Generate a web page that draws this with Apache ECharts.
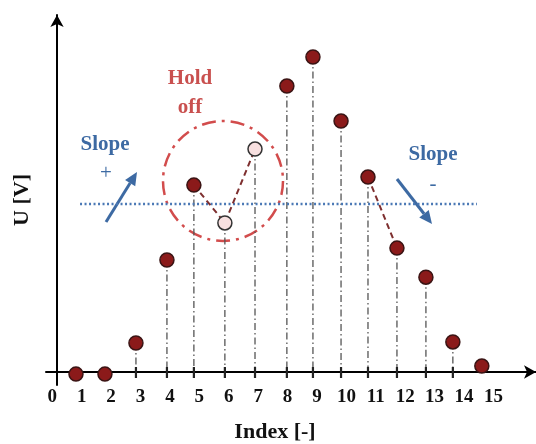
<!DOCTYPE html>
<html><head><meta charset="utf-8">
<script src="https://cdn.jsdelivr.net/npm/echarts@6/dist/echarts.min.js"></script>
<style>html,body{margin:0;padding:0;background:#fff}#c{width:536px;height:444px}</style>
</head><body><div id="c"></div>
<script>
// ---- data ----
const indexPos = [0.90, 1.90, 2.97, 4.04, 4.97, 6.04, 7.08, 8.18, 9.08, 10.05, 10.98, 11.98, 12.98, 13.91, 14.91];
const uValues  = [-0.06, -0.06, 0.83, 3.20, 5.34, 4.26, 6.37, 8.17, 9.00, 7.17, 5.57, 3.54, 2.71, 0.86, 0.17];
const heldOffPoints = [5, 6];            // zero-based: samples 6 and 7 (hollow)
const dashedGroups = [[4, 5, 6], [10, 11]];
const tickLabels = ['0','1','2','3','4','5','6','7','8','9','10','11','12','13','14','15'];
const threshold = 4.8;
const thresholdSpan = [1.04, 14.74];

const SERIF = '"Liberation Serif", "DejaVu Serif", serif';
const pts = indexPos.map((x, i) => [x, uValues[i]]);

function arrow(x1, y1, x2, y2, color) {
  const ang = Math.atan2(y2 - y1, x2 - x1);
  const L = 13, W = 6;
  const bx = x2 - L * Math.cos(ang), by = y2 - L * Math.sin(ang);
  const nx = -Math.sin(ang) * W, ny = Math.cos(ang) * W;
  return [
    { type: 'line', shape: { x1, y1, x2: bx, y2: by }, style: { stroke: color, lineWidth: 3 } },
    { type: 'polygon', shape: { points: [[x2, y2], [bx + nx, by + ny], [bx - nx, by - ny]] }, style: { fill: color } }
  ];
}

const chart = echarts.init(document.getElementById('c'), null, { renderer: 'canvas' });
const blue = '#3d6aa3', red = '#c9504f';

const option = {
  animation: false,
  backgroundColor: '#fff',
  grid: { left: 46, right: 0, top: 15, bottom: 59, containLabel: false, outerBoundsMode: 'none' },
  xAxis: [
    { type: 'value', min: -0.135, max: 16.78,
      axisLine: { show: true, onZero: true, symbol: ['none', 'arrow'], symbolSize: [10, 12],
                  lineStyle: { color: '#000', width: 2 } },
      axisTick: { show: false }, axisLabel: { show: false }, splitLine: { show: false } },
    { type: 'value', min: -0.214, max: 16.447, position: 'bottom',
      axisLine: { show: false, onZero: false }, axisTick: { show: false }, splitLine: { show: false },
      axisLabel: { show: true, customValues: tickLabels.map(Number), formatter: v => tickLabels[v] || '',
                   margin: 3, color: '#111', fontFamily: SERIF, fontWeight: 'bold', fontSize: 19 },
      name: 'Index [-]', nameLocation: 'middle', nameGap: 36,
      nameTextStyle: { color: '#111', fontFamily: SERIF, fontWeight: 'bold', fontSize: 22, padding: [0, 32, 0, 0] } }
  ],
  yAxis: {
    type: 'value', min: -0.371, max: 10.2, offset: -11,
    axisLine: { show: true, onZero: false, symbol: ['none', 'arrow'], symbolSize: [10, 12],
                lineStyle: { color: '#000', width: 2 } },
    axisTick: { show: false }, axisLabel: { show: false }, splitLine: { show: false },
    name: 'U [V]', nameLocation: 'middle', nameRotate: 90, nameGap: 24,
    nameTextStyle: { color: '#111', fontFamily: SERIF, fontWeight: 'bold', fontSize: 22 }
  },
  series: [
    { type: 'custom', xAxisIndex: 0, data: pts, z: 2, silent: true,
      renderItem: (params, api) => {
        const x = api.value(0), y = api.value(1);
        const p = api.coord([x, y]), b = api.coord([x, 0]);
        const children = [{ type: 'line', shape: { x1: p[0], y1: p[1], x2: b[0], y2: b[1] },
          style: { stroke: '#555', lineWidth: 1.3, lineDash: [7, 3, 1.5, 3] } }];
        if (y > 0.3) children.push({ type: 'line', shape: { x1: b[0], y1: b[1] - 5, x2: b[0], y2: b[1] + 6 },
          style: { stroke: '#222', lineWidth: 2.2 } });
        return { type: 'group', children };
      } },
    { type: 'line', xAxisIndex: 0, data: thresholdSpan.map(x => [x, threshold]), symbol: 'none', z: 3,
      lineStyle: { color: '#4a78b5', width: 2.5, type: [2, 2.5] } },
    ...dashedGroups.map(g => ({ type: 'line', xAxisIndex: 0, data: g.map(i => pts[i]), symbol: 'none', z: 4,
      lineStyle: { color: '#7e2f2f', width: 2, type: [6, 4] } })),
    { type: 'scatter', xAxisIndex: 0, symbolSize: 14, z: 6,
      data: pts.map((p, i) => ({ value: p, itemStyle: heldOffPoints.includes(i)
        ? { color: '#f8e0e0', borderColor: '#333', borderWidth: 1.5, opacity: 1 }
        : { color: '#8b1a1a', borderColor: '#3a1414', borderWidth: 1.5, opacity: 1 } })) }
  ],
  graphic: [
    { type: 'circle', shape: { cx: 223, cy: 181, r: 60 }, z: 1,
      style: { fill: 'none', stroke: '#d24c4c', lineWidth: 2.5, lineDash: [14, 6, 3, 6] } },
    { type: 'text', x: 190, y: 79, style: { text: 'Hold', fill: red, font: 'bold 21px ' + SERIF, align: 'center', verticalAlign: 'middle' } },
    { type: 'text', x: 190, y: 108, style: { text: 'off', fill: red, font: 'bold 21px ' + SERIF, align: 'center', verticalAlign: 'middle' } },
    { type: 'text', x: 105, y: 145, style: { text: 'Slope', fill: blue, font: 'bold 21px ' + SERIF, align: 'center', verticalAlign: 'middle' } },
    { type: 'text', x: 106, y: 173, style: { text: '+', fill: blue, font: '21px ' + SERIF, align: 'center', verticalAlign: 'middle' } },
    { type: 'text', x: 433, y: 155, style: { text: 'Slope', fill: blue, font: 'bold 21px ' + SERIF, align: 'center', verticalAlign: 'middle' } },
    { type: 'text', x: 433, y: 184, style: { text: '-', fill: blue, font: '21px ' + SERIF, align: 'center', verticalAlign: 'middle' } },
    ...arrow(106, 222, 137, 172, blue),
    ...arrow(397, 179, 432, 224, blue)
  ]
};
chart.setOption(option);
</script></body></html>
